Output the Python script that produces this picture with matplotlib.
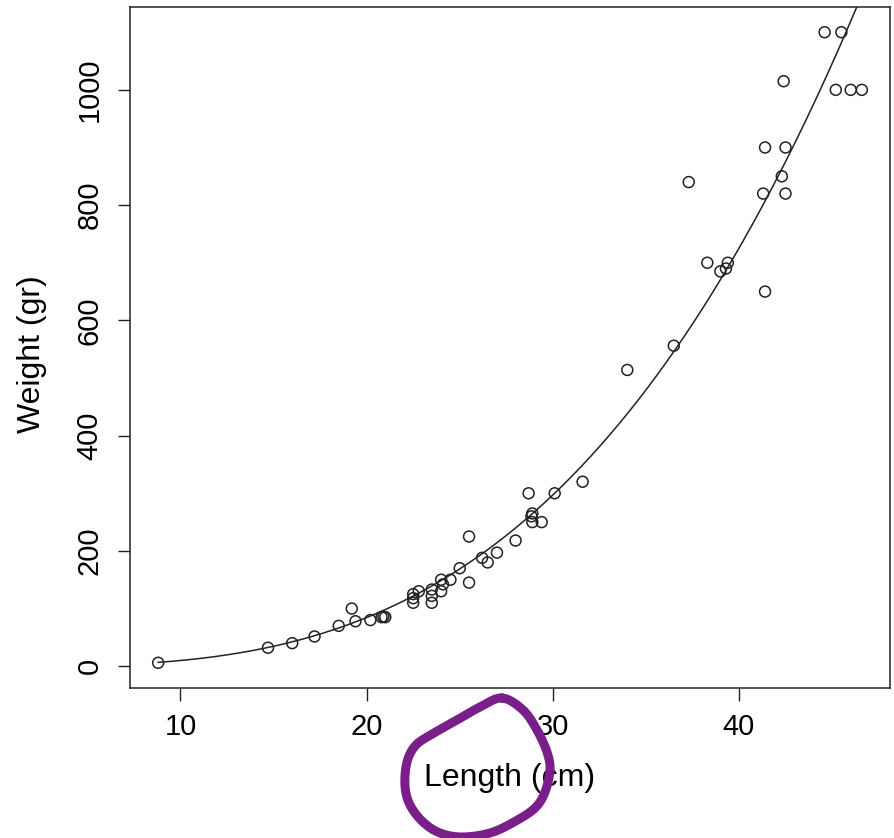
import numpy as np
import matplotlib
matplotlib.use("Agg")
import matplotlib.pyplot as plt

plt.rcParams['font.family'] = ['Liberation Sans', 'DejaVu Sans']

# perch data: total length (cm) and weight (gr)
length = [8.8, 14.7, 16.0, 17.2, 18.5, 19.2, 19.4, 20.2, 20.8, 20.9, 21.0,
          22.5, 22.5, 22.5, 22.8, 23.5, 23.5, 23.5, 24.0, 24.0, 24.1, 24.5,
          25.0, 25.5, 25.5, 26.2, 26.5, 27.0, 28.0, 28.7, 28.9, 28.85, 28.9,
          29.4, 30.1, 31.6, 34.0, 36.5, 37.3, 38.3, 39.0, 39.3, 39.4, 41.4,
          41.4, 41.3, 42.3, 42.5, 42.4, 42.5, 44.6, 45.5, 45.2, 46.0, 46.6]
weight = [5.9, 32, 40, 51.5, 70, 100, 78, 80, 85, 86, 85,
          110, 118, 125, 130, 110, 122, 133, 130, 150, 142, 150,
          170, 225, 145, 188, 180, 197, 218, 300, 265, 260, 250,
          250, 300, 320, 514, 556, 840, 700, 685, 690, 700, 900,
          650, 820, 850, 900, 1015, 820, 1100, 1100, 1000, 1000, 1000]

# fitted power curve W = a * L^b
fit_a = 0.00775
fit_b = 3.103

x_ticks = [10, 20, 30, 40]
y_ticks = [0, 200, 400, 600, 800, 1000]

# hand-drawn purple loop round the x label (figure pixels, y down)
loop_px = [(502, 698), (523, 710), (537, 730), (547, 752), (550, 770),
           (545, 792), (535, 808), (514, 822), (490, 833), (462, 837),
           (440, 833), (423, 822), (410, 805), (405, 786), (407, 762),
           (416, 745), (434, 733), (457, 720), (480, 707)]

W, H = 895, 838
fig = plt.figure(figsize=(W / 100, H / 100), dpi=100)
ax = fig.add_axes([130 / W, 1 - 688 / H, (890 - 130) / W, (688 - 7) / H])

L = np.array(length)
Wt = np.array(weight)

ax.scatter(L, Wt, s=62, facecolors='none', edgecolors='#222222', linewidths=1.1, zorder=3)

xs = np.linspace(L.min(), L.max(), 300)
ax.plot(xs, fit_a * xs ** fit_b, color='#222222', lw=1.1)

# R style limits: data range plus 4%
xr = L.max() - L.min()
yr = Wt.max() - Wt.min()
ax.set_xlim(L.min() - 0.04 * xr, L.max() + 0.04 * xr)
ax.set_ylim(Wt.min() - 0.04 * yr, Wt.max() + 0.04 * yr)

ax.set_xticks(x_ticks)
ax.set_yticks(y_ticks)
ax.tick_params(axis='both', length=9, width=1, color='#222222', labelsize=21, pad=9)
ax.tick_params(axis='y', labelrotation=90, pad=10)
for lab in ax.get_yticklabels():
    lab.set_va('center')
for sp in ax.spines.values():
    sp.set_color('#222222')
    sp.set_linewidth(1.1)

ax.set_xlabel('Length (cm)', fontsize=23)
ax.set_ylabel('Weight (gr)', fontsize=23)
ax.xaxis.label.set_va('center')
ax.yaxis.label.set_va('center')
ax.xaxis.set_label_coords(0.5, (688 - 778) / 681)
ax.yaxis.set_label_coords((32 - 130) / 760, (688 - 354) / 681)

# smooth closed loop (Catmull-Rom)
P = np.array(loop_px, dtype=float)
n = len(P)
t = np.linspace(0, 1, 12)[:, None]
seg = []
for i in range(n):
    p0, p1, p2, p3 = P[i - 1], P[i], P[(i + 1) % n], P[(i + 2) % n]
    seg.append(0.5 * (2 * p1 + (-p0 + p2) * t + (2 * p0 - 5 * p1 + 4 * p2 - p3) * t ** 2
                      + (-p0 + 3 * p1 - 3 * p2 + p3) * t ** 3))
curve = np.vstack(seg)
fig.add_artist(plt.Line2D(curve[:, 0] / W, 1 - curve[:, 1] / H, transform=fig.transFigure,
                          color='#7a1f8a', lw=6.5, solid_capstyle='round'))

fig.savefig('out.png', dpi=100)
